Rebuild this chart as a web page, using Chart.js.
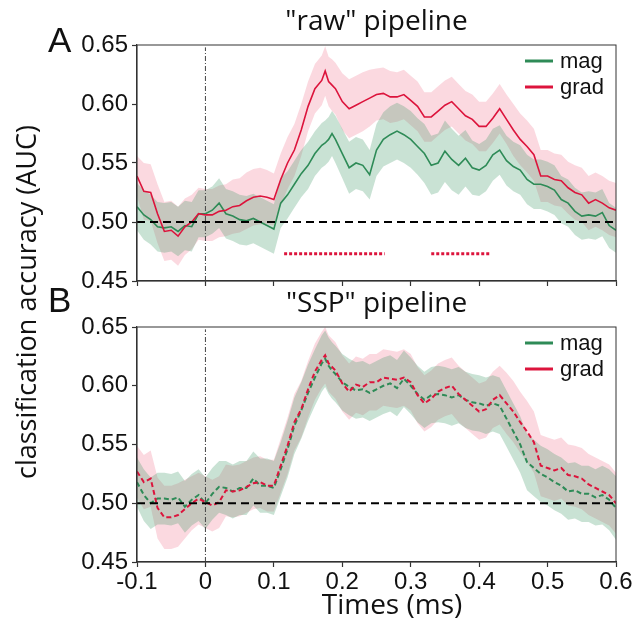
<!DOCTYPE html>
<html>
<head>
<meta charset="utf-8">
<script src="https://cdn.jsdelivr.net/npm/chart.js@4.4.1/dist/chart.umd.min.js"></script>
<style>
  body { margin: 0; background: #fff; }
  #wrap { position: relative; width: 639px; height: 630px; overflow: hidden; }
  canvas { position: absolute; left: 0; }
  #chartA { top: 0; }
  #chartB { top: 282px; }
  .txt { position: absolute; white-space: nowrap; line-height: 1; color: #111; }
  #ylab { font-family: "Open Sans"; font-size: 27px; left: 25px; top: 302px; transform: translate(-50%, -50%) rotate(-90deg); }
  #xlab { font-family: "Open Sans"; font-size: 28px; left: 392px; top: 589px; transform: translateX(-50%); }
  .letter { font-family: "Liberation Sans"; font-size: 35px; }
</style>
</head>
<body>
<div id="wrap">
  <canvas id="chartA" width="639" height="301"></canvas>
  <canvas id="chartB" width="639" height="348"></canvas>
  <div class="txt letter" style="left:48px; top:22px;">A</div>
  <div class="txt letter" style="left:48px; top:282px;">B</div>
  <div class="txt" id="ylab">classification accuracy (AUC)</div>
  <div class="txt" id="xlab">Times (ms)</div>
</div>
<script>
// sample times (s) along the x axis
const times = [
  -0.10, -0.09, -0.08, -0.07, -0.06, -0.05, -0.04, -0.03, -0.02, -0.01,
  0.00, 0.01, 0.02, 0.03, 0.04, 0.05, 0.06, 0.07, 0.08, 0.09,
  0.10, 0.11, 0.12, 0.13, 0.14, 0.15, 0.16, 0.17, 0.175, 0.18,
  0.185, 0.19, 0.20, 0.21, 0.22, 0.23, 0.24, 0.25, 0.26, 0.27,
  0.28, 0.29, 0.30, 0.31, 0.32, 0.33, 0.34, 0.35, 0.36, 0.37,
  0.38, 0.39, 0.40, 0.41, 0.42, 0.43, 0.44, 0.45, 0.46, 0.47,
  0.48, 0.49, 0.50, 0.51, 0.52, 0.53, 0.54, 0.55, 0.56, 0.57,
  0.58, 0.59, 0.60
];

// "raw" pipeline
const rawGrad = [
  0.539, 0.526, 0.525, 0.507, 0.492, 0.493, 0.488, 0.496, 0.500, 0.507,
  0.506, 0.506, 0.509, 0.510, 0.513, 0.514, 0.518, 0.521, 0.522, 0.521,
  0.519, 0.536, 0.550, 0.561, 0.578, 0.598, 0.613, 0.620, 0.628, 0.619,
  0.616, 0.613, 0.602, 0.596, 0.599, 0.602, 0.605, 0.608, 0.609, 0.606,
  0.606, 0.608, 0.603, 0.598, 0.589, 0.589, 0.594, 0.599, 0.602, 0.596,
  0.590, 0.587, 0.581, 0.581, 0.588, 0.596, 0.587, 0.578, 0.570, 0.564,
  0.557, 0.539, 0.539, 0.536, 0.535, 0.529, 0.525, 0.523, 0.516, 0.519,
  0.516, 0.512, 0.510
];
const rawGradErr = [
  0.017, 0.024, 0.024, 0.025, 0.025, 0.025, 0.025, 0.024, 0.023, 0.022,
  0.022, 0.022, 0.022, 0.022, 0.023, 0.023, 0.024, 0.024, 0.024, 0.023,
  0.022, 0.022, 0.022, 0.022, 0.022, 0.021, 0.021, 0.021, 0.021, 0.021,
  0.022, 0.022, 0.024, 0.025, 0.025, 0.025, 0.024, 0.022, 0.022, 0.022,
  0.021, 0.021, 0.021, 0.021, 0.021, 0.021, 0.021, 0.021, 0.021, 0.021,
  0.021, 0.021, 0.021, 0.021, 0.021, 0.021, 0.021, 0.022, 0.022, 0.022,
  0.022, 0.022, 0.022, 0.022, 0.022, 0.022, 0.023, 0.023, 0.023, 0.023,
  0.023, 0.023, 0.023
];
const rawMag = [
  0.513, 0.506, 0.502, 0.496, 0.495, 0.496, 0.492, 0.497, 0.496, 0.507,
  0.507, 0.510, 0.516, 0.507, 0.505, 0.502, 0.501, 0.503, 0.500, 0.497,
  0.494, 0.516, 0.523, 0.532, 0.541, 0.548, 0.558, 0.565, 0.567, 0.570,
  0.575, 0.570, 0.558, 0.546, 0.550, 0.548, 0.540, 0.561, 0.570, 0.574,
  0.577, 0.574, 0.570, 0.564, 0.558, 0.548, 0.550, 0.560, 0.553, 0.548,
  0.554, 0.546, 0.544, 0.548, 0.557, 0.561, 0.552, 0.547, 0.544, 0.536,
  0.532, 0.532, 0.530, 0.527, 0.519, 0.516, 0.509, 0.505, 0.506, 0.505,
  0.508, 0.497, 0.493
];
const rawMagErr = [
  0.020, 0.021, 0.021, 0.021, 0.021, 0.021, 0.021, 0.021, 0.021, 0.020,
  0.020, 0.020, 0.021, 0.021, 0.021, 0.021, 0.021, 0.021, 0.021, 0.021,
  0.021, 0.021, 0.020, 0.020, 0.020, 0.020, 0.019, 0.019, 0.019, 0.019,
  0.019, 0.020, 0.021, 0.022, 0.022, 0.022, 0.021, 0.022, 0.023, 0.024,
  0.024, 0.024, 0.024, 0.024, 0.025, 0.025, 0.025, 0.026, 0.026, 0.025,
  0.024, 0.023, 0.022, 0.022, 0.022, 0.021, 0.021, 0.021, 0.021, 0.021,
  0.021, 0.021, 0.021, 0.021, 0.020, 0.020, 0.020, 0.020, 0.020, 0.020,
  0.020, 0.019, 0.019
];

// "SSP" pipeline
const sspGrad = [
  0.527, 0.518, 0.521, 0.496, 0.488, 0.488, 0.490, 0.495, 0.500, 0.504,
  0.501, 0.498, 0.501, 0.511, 0.510, 0.511, 0.514, 0.517, 0.518, 0.515,
  0.515, 0.532, 0.549, 0.569, 0.580, 0.597, 0.612, 0.622, 0.626, 0.619,
  0.616, 0.613, 0.602, 0.595, 0.601, 0.599, 0.603, 0.603, 0.607, 0.606,
  0.605, 0.607, 0.603, 0.592, 0.585, 0.589, 0.595, 0.598, 0.600, 0.593,
  0.588, 0.583, 0.578, 0.580, 0.588, 0.592, 0.585, 0.578, 0.569, 0.561,
  0.552, 0.532, 0.530, 0.528, 0.530, 0.524, 0.523, 0.521, 0.516, 0.513,
  0.510, 0.507, 0.500
];
const sspGradErr = [
  0.022, 0.023, 0.024, 0.026, 0.027, 0.027, 0.027, 0.025, 0.023, 0.022,
  0.022, 0.022, 0.022, 0.022, 0.022, 0.022, 0.022, 0.022, 0.022, 0.022,
  0.022, 0.023, 0.024, 0.024, 0.024, 0.024, 0.024, 0.024, 0.024, 0.024,
  0.024, 0.024, 0.024, 0.024, 0.024, 0.024, 0.024, 0.024, 0.024, 0.024,
  0.024, 0.024, 0.024, 0.024, 0.024, 0.024, 0.024, 0.024, 0.024, 0.024,
  0.024, 0.024, 0.024, 0.024, 0.024, 0.025, 0.026, 0.026, 0.026, 0.026,
  0.026, 0.026, 0.026, 0.026, 0.026, 0.026, 0.026, 0.026, 0.026, 0.026,
  0.026, 0.026, 0.026
];
const sspMag = [
  0.518, 0.507, 0.500, 0.504, 0.504, 0.503, 0.505, 0.497, 0.503, 0.507,
  0.500, 0.508, 0.514, 0.513, 0.510, 0.513, 0.513, 0.521, 0.515, 0.515,
  0.513, 0.529, 0.546, 0.566, 0.579, 0.594, 0.607, 0.619, 0.623, 0.617,
  0.613, 0.610, 0.603, 0.599, 0.596, 0.597, 0.594, 0.597, 0.600, 0.602,
  0.598, 0.606, 0.600, 0.593, 0.588, 0.592, 0.593, 0.592, 0.590, 0.592,
  0.588, 0.586, 0.585, 0.583, 0.585, 0.583, 0.572, 0.561, 0.550, 0.535,
  0.530, 0.525, 0.522, 0.518, 0.515, 0.510, 0.511, 0.508, 0.508, 0.505,
  0.507, 0.503, 0.496
];
const sspMagErr = [
  0.021, 0.022, 0.022, 0.022, 0.022, 0.022, 0.022, 0.022, 0.022, 0.022,
  0.022, 0.022, 0.022, 0.023, 0.023, 0.023, 0.023, 0.023, 0.023, 0.023,
  0.023, 0.023, 0.024, 0.024, 0.024, 0.024, 0.024, 0.024, 0.024, 0.024,
  0.024, 0.024, 0.024, 0.024, 0.024, 0.024, 0.024, 0.024, 0.024, 0.024,
  0.024, 0.024, 0.024, 0.024, 0.024, 0.024, 0.024, 0.024, 0.024, 0.024,
  0.024, 0.024, 0.024, 0.024, 0.024, 0.024, 0.024, 0.024, 0.024, 0.024,
  0.024, 0.024, 0.024, 0.024, 0.024, 0.024, 0.024, 0.024, 0.024, 0.024,
  0.025, 0.026, 0.027
];

// significant clusters in the raw pipeline (start, end) and where they are drawn
const rawSigSpans = [[0.115, 0.262], [0.330, 0.415]];
const sigLevel = 0.473;
const chanceLevel = 0.5;

const xTicks = [-0.1, 0, 0.1, 0.2, 0.3, 0.4, 0.5, 0.6];
const xTickLabels = ['-0.1', '0', '0.1', '0.2', '0.3', '0.4', '0.5', '0.6'];
const yTicks = [0.45, 0.50, 0.55, 0.60, 0.65];
const yTickLabels = ['0.45', '0.50', '0.55', '0.60', '0.65'];

const GREEN = '#2e8b57';
const RED = '#dc143c';
const GREEN_BAND = 'rgba(60, 150, 100, 0.28)';
const RED_BAND = 'rgba(235, 80, 115, 0.22)';

Chart.defaults.font.family = '"Liberation Sans", Arial, sans-serif';
Chart.defaults.color = '#111';

const pts = (ys) => times.map((t, i) => ({ x: t, y: ys[i] }));
const band = (ys, err, sign) => times.map((t, i) => ({ x: t, y: ys[i] + sign * err[i] }));

const framePlugin = {
  id: 'frame',
  afterDatasetsDraw(chart) {
    const { ctx, chartArea: a } = chart;
    ctx.save();
    ctx.strokeStyle = '#333';
    ctx.lineWidth = 1;
    ctx.strokeRect(a.left, a.top, a.width, a.height);
    ctx.restore();
  }
};

const cornerLegend = {
  id: 'cornerLegend',
  afterDraw(chart) {
    const { ctx, chartArea: a } = chart;
    const items = chart.data.datasets.filter(d => d.inLegend);
    ctx.save();
    ctx.font = '22px "Liberation Sans"';
    ctx.textBaseline = 'middle';
    ctx.fillStyle = '#111';
    items.forEach((d, i) => {
      const y = a.top + 16 + i * 26;
      ctx.strokeStyle = d.borderColor;
      ctx.lineWidth = 3;
      ctx.beginPath();
      ctx.moveTo(a.right - 91, y);
      ctx.lineTo(a.right - 63, y);
      ctx.stroke();
      ctx.fillText(d.label, a.right - 56, y + 1);
    });
    ctx.restore();
  }
};

function makePanel(canvasId, title, mag, magErr, grad, gradErr, dashed, sigSpans, bottom) {
  const dash = dashed ? [5, 3] : [];
  const lw = dashed ? 2 : 1.6;
  const datasets = [
    { label: 'chance', data: [{ x: -0.1, y: chanceLevel }, { x: 0.6, y: chanceLevel }],
      borderColor: '#000', borderWidth: 2, borderDash: [8, 5], order: 0 },
    { label: 'mag', data: pts(mag), borderColor: GREEN, borderWidth: lw, borderDash: dash, inLegend: true, order: 2 },
    { label: 'grad', data: pts(grad), borderColor: RED, borderWidth: lw, borderDash: dash, inLegend: true, order: 1 },
    { label: 'onset', data: [{ x: 0, y: 0.45 }, { x: 0, y: 0.648 }],
      borderColor: '#444', borderWidth: 1, borderDash: [5, 2, 1, 2], order: 3 },
  ];
  sigSpans.forEach(s => datasets.push({
    label: 'sig', data: [{ x: s[0], y: sigLevel }, { x: s[1], y: sigLevel }],
    borderColor: RED, borderWidth: 3, borderDash: [3, 2], order: 4
  }));
  datasets.push(
    { label: 'mag hi', data: band(mag, magErr, 1), borderWidth: 0, order: 7 },
    { label: 'mag lo', data: band(mag, magErr, -1), borderWidth: 0, fill: '-1', backgroundColor: GREEN_BAND, order: 7 },
    { label: 'grad hi', data: band(grad, gradErr, 1), borderWidth: 0, order: 8 },
    { label: 'grad lo', data: band(grad, gradErr, -1), borderWidth: 0, fill: '-1', backgroundColor: RED_BAND, order: 8 }
  );

  return new Chart(document.getElementById(canvasId), {
    type: 'line',
    data: { datasets },
    options: {
      responsive: false,
      animation: false,
      devicePixelRatio: 1,
      layout: { padding: { left: 0, right: 23, top: 0, bottom: 0 } },
      elements: { point: { radius: 0 }, line: { tension: 0, fill: false } },
      plugins: {
        legend: { display: false },
        tooltip: { enabled: false },
        title: {
          display: true, text: title, fullSize: false, color: '#111',
          font: { family: '"Open Sans"', size: 28, weight: 'normal', lineHeight: 1.2 },
          padding: { top: 5, bottom: 6.4 }
        }
      },
      scales: {
        x: {
          type: 'linear', min: -0.1, max: 0.6,
          afterBuildTicks: s => { s.ticks = xTicks.map(v => ({ value: v })); },
          afterFit: s => { s.height = bottom ? 68 : 20; },
          ticks: {
            autoSkip: false, maxRotation: 0, padding: 1,
            font: { size: 24 }, color: '#111',
            callback: (v, i) => bottom ? xTickLabels[i] : ''
          },
          grid: { drawOnChartArea: false, drawTicks: true, tickLength: 5, color: '#333', tickWidth: 1.2 },
          border: { color: '#333', width: 1.2 }
        },
        y: {
          min: 0.45, max: 0.65,
          afterBuildTicks: s => { s.ticks = yTicks.map(v => ({ value: v })); },
          afterFit: s => { s.width = 137; },
          ticks: {
            padding: 4, font: { size: 24 }, color: '#111',
            callback: (v, i) => yTickLabels[i]
          },
          grid: { drawOnChartArea: false, drawTicks: true, tickLength: 5, color: '#333', tickWidth: 1.2 },
          border: { color: '#333', width: 1.2 }
        }
      }
    },
    plugins: [framePlugin, cornerLegend]
  });
}

makePanel('chartA', '"raw" pipeline', rawMag, rawMagErr, rawGrad, rawGradErr, false, rawSigSpans, false);
makePanel('chartB', '"SSP" pipeline', sspMag, sspMagErr, sspGrad, sspGradErr, true, [], true);
</script>
</body>
</html>
